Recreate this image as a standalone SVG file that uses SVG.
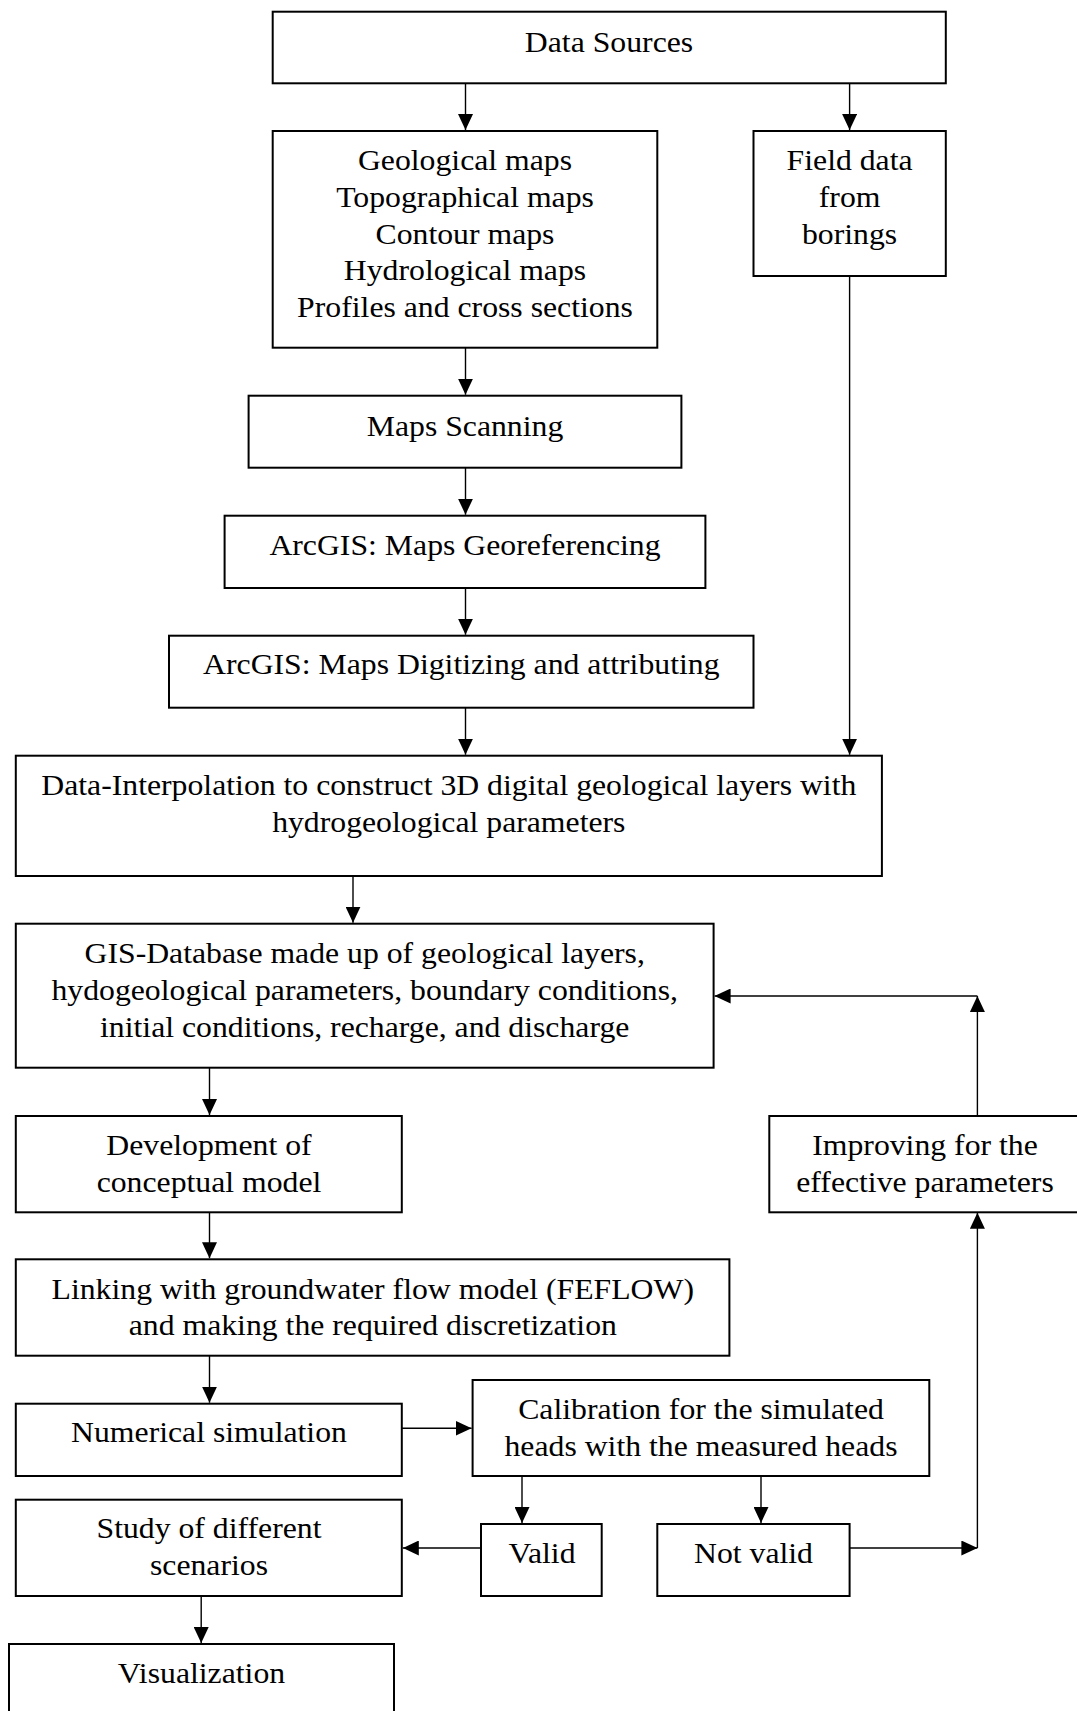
<svg xmlns="http://www.w3.org/2000/svg" width="1077" height="1711" viewBox="0 0 1077 1711">
<style>
.box{fill:#fff;stroke:#000;stroke-width:2}
.t{font-family:"Liberation Serif","Times New Roman",serif;font-size:30px;fill:#000;text-anchor:middle}
.c{fill:none;stroke:#000;stroke-width:1.4}
</style>
<defs>
<marker id="ah" markerUnits="userSpaceOnUse" markerWidth="16" markerHeight="15" refX="16" refY="7.5" orient="auto" viewBox="0 0 16 15">
<path d="M0,0 L16,7.5 L0,15 z" fill="#000"/>
</marker>
</defs>
<rect width="1077" height="1711" fill="#fff"/>
<g id="connectors">
<line class="c" x1="465.5" y1="83.3" x2="465.5" y2="130" marker-end="url(#ah)"/>
<line class="c" x1="849.6" y1="83.3" x2="849.6" y2="130" marker-end="url(#ah)"/>
<line class="c" x1="465.5" y1="347.7" x2="465.5" y2="394.7" marker-end="url(#ah)"/>
<line class="c" x1="465.5" y1="467.7" x2="465.5" y2="514.7" marker-end="url(#ah)"/>
<line class="c" x1="465.5" y1="588" x2="465.5" y2="634.7" marker-end="url(#ah)"/>
<line class="c" x1="465.5" y1="707.7" x2="465.5" y2="754.7" marker-end="url(#ah)"/>
<line class="c" x1="849.6" y1="276" x2="849.6" y2="754.7" marker-end="url(#ah)"/>
<line class="c" x1="353" y1="876" x2="353" y2="922.7" marker-end="url(#ah)"/>
<line class="c" x1="209.5" y1="1067.7" x2="209.5" y2="1115" marker-end="url(#ah)"/>
<line class="c" x1="209.5" y1="1212.3" x2="209.5" y2="1258.3" marker-end="url(#ah)"/>
<line class="c" x1="209.5" y1="1355.7" x2="209.5" y2="1402.7" marker-end="url(#ah)"/>
<line class="c" x1="401.8" y1="1428.3" x2="471.6" y2="1428.3" marker-end="url(#ah)"/>
<line class="c" x1="522" y1="1476" x2="522" y2="1523" marker-end="url(#ah)"/>
<line class="c" x1="761" y1="1476" x2="761" y2="1523" marker-end="url(#ah)"/>
<line class="c" x1="481" y1="1548" x2="402.8" y2="1548" marker-end="url(#ah)"/>
<line class="c" x1="201.2" y1="1596" x2="201.2" y2="1643" marker-end="url(#ah)"/>
<line class="c" x1="849.6" y1="1548" x2="977.4" y2="1548" marker-end="url(#ah)"/>
<line class="c" x1="977.4" y1="1548" x2="977.4" y2="1212.7" marker-end="url(#ah)"/>
<line class="c" x1="977.4" y1="1116" x2="977.4" y2="996" marker-end="url(#ah)"/>
<line class="c" x1="977.4" y1="996" x2="714.6" y2="996" marker-end="url(#ah)"/>
</g>
<g id="data-sources">
<rect class="box" x="272.7" y="11.7" width="673.1" height="71.6"/>
<text class="t" transform="translate(609,52) scale(1.058 1)">Data Sources</text>
</g>
<g id="maps">
<rect class="box" x="272.7" y="131" width="384.6" height="216.7"/>
<text class="t" transform="translate(465,0) scale(1.058 1)"><tspan x="0" y="170">Geological maps</tspan><tspan x="0" y="206.8">Topographical maps</tspan><tspan x="0" y="243.6">Contour maps</tspan><tspan x="0" y="280.4">Hydrological maps</tspan><tspan x="0" y="317.2">Profiles and cross sections</tspan></text>
</g>
<g id="field-data">
<rect class="box" x="753.5" y="131" width="192.3" height="145"/>
<text class="t" transform="translate(849.6,0) scale(1.058 1)"><tspan x="0" y="170">Field data</tspan><tspan x="0" y="206.8">from</tspan><tspan x="0" y="243.6">borings</tspan></text>
</g>
<g id="maps-scanning">
<rect class="box" x="248.6" y="395.7" width="432.8" height="72"/>
<text class="t" transform="translate(465,436) scale(1.058 1)">Maps Scanning</text>
</g>
<g id="georeferencing">
<rect class="box" x="224.6" y="515.7" width="480.8" height="72.3"/>
<text class="t" transform="translate(465,555) scale(1.058 1)">ArcGIS: Maps Georeferencing</text>
</g>
<g id="digitizing">
<rect class="box" x="169" y="635.7" width="584.5" height="72"/>
<text class="t" transform="translate(461.3,674.3) scale(1.058 1)">ArcGIS: Maps Digitizing and attributing</text>
</g>
<g id="data-interpolation">
<rect class="box" x="15.8" y="755.7" width="866.1" height="120.3"/>
<text class="t" transform="translate(448.8,0) scale(1.058 1)"><tspan x="0" y="795">Data-Interpolation to construct 3D digital geological layers with</tspan><tspan x="0" y="831.7">hydrogeological parameters</tspan></text>
</g>
<g id="gis-database">
<rect class="box" x="15.8" y="923.7" width="697.8" height="144"/>
<text class="t" transform="translate(364.7,0) scale(1.058 1)"><tspan x="0" y="963.3">GIS-Database made up of geological layers,</tspan><tspan x="0" y="1000">hydogeological parameters, boundary conditions,</tspan><tspan x="0" y="1036.7">initial conditions, recharge, and discharge</tspan></text>
</g>
<g id="conceptual-model">
<rect class="box" x="15.8" y="1116" width="386" height="96.3"/>
<text class="t" transform="translate(209,0) scale(1.058 1)"><tspan x="0" y="1155">Development of</tspan><tspan x="0" y="1191.7">conceptual model</tspan></text>
</g>
<g id="improving">
<rect class="box" x="769.3" y="1116" width="330" height="96.3"/>
<text class="t" transform="translate(925,0) scale(1.058 1)"><tspan x="0" y="1155">Improving for the</tspan><tspan x="0" y="1191.7">effective parameters</tspan></text>
</g>
<g id="linking">
<rect class="box" x="15.8" y="1259.3" width="713.6" height="96.4"/>
<text class="t" transform="translate(372.8,0) scale(1.058 1)"><tspan x="0" y="1299">Linking with groundwater flow model (FEFLOW)</tspan><tspan x="0" y="1335.5">and making the required discretization</tspan></text>
</g>
<g id="numerical-simulation">
<rect class="box" x="15.8" y="1403.7" width="386" height="72.3"/>
<text class="t" transform="translate(209,1441.7) scale(1.058 1)">Numerical simulation</text>
</g>
<g id="calibration">
<rect class="box" x="472.6" y="1380" width="456.7" height="96"/>
<text class="t" transform="translate(701,0) scale(1.058 1)"><tspan x="0" y="1419.3">Calibration for the simulated</tspan><tspan x="0" y="1456">heads with the measured heads</tspan></text>
</g>
<g id="scenarios">
<rect class="box" x="15.8" y="1499.7" width="386" height="96.3"/>
<text class="t" transform="translate(209,0) scale(1.058 1)"><tspan x="0" y="1538.3">Study of different</tspan><tspan x="0" y="1575">scenarios</tspan></text>
</g>
<g id="valid">
<rect class="box" x="481" y="1524" width="120.7" height="72"/>
<text class="t" transform="translate(542,1563.3) scale(1.058 1)">Valid</text>
</g>
<g id="not-valid">
<rect class="box" x="657.3" y="1524" width="192.3" height="72"/>
<text class="t" transform="translate(753.5,1563.3) scale(1.058 1)">Not valid</text>
</g>
<g id="visualization">
<rect class="box" x="9" y="1644" width="385" height="100"/>
<text class="t" transform="translate(201.5,1683.3) scale(1.058 1)">Visualization</text>
</g>
</svg>
